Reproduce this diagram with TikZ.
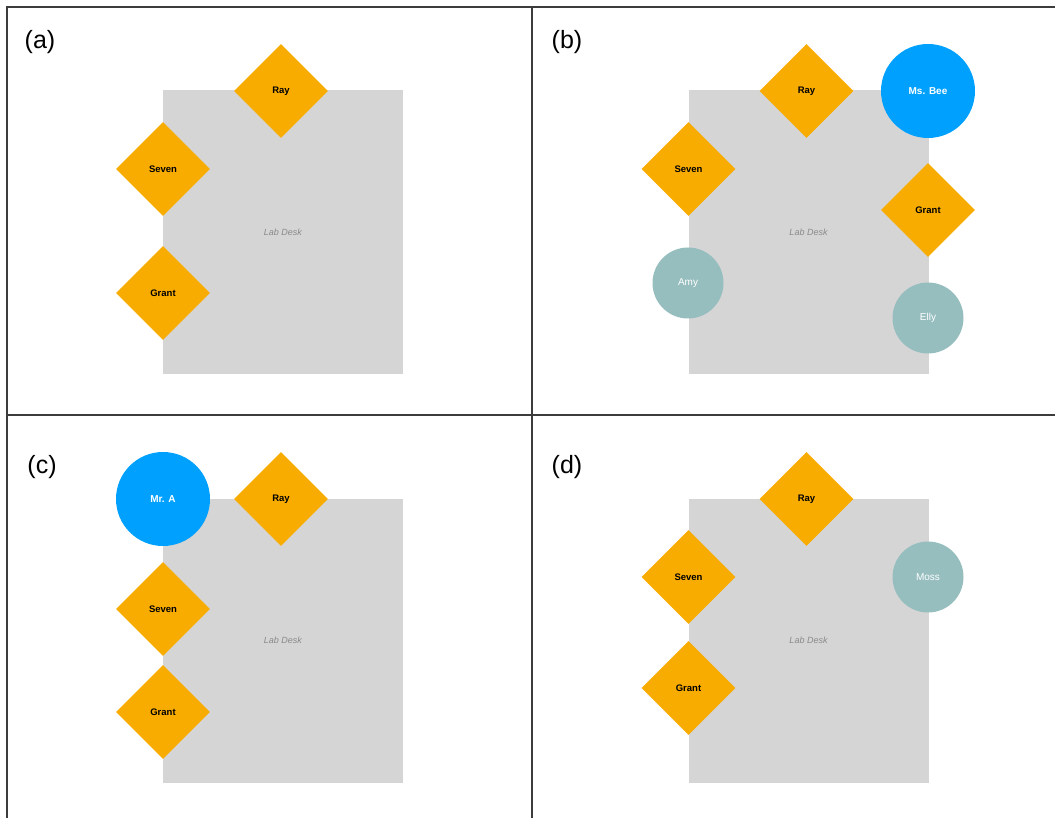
\documentclass[tikz,border=0pt]{standalone}
\usepackage{fontspec}
\setmainfont{Liberation Sans}
\usepackage{tikz}
\usetikzlibrary{shapes.geometric}

\definecolor{deskgray}{HTML}{D5D5D5}
\definecolor{desktext}{HTML}{8A8A8A}
\definecolor{seatorange}{HTML}{F9AC00}
\definecolor{headblue}{HTML}{00A1FE}
\definecolor{guestteal}{HTML}{97BEBF}
\definecolor{framegray}{HTML}{3C3C3C}

\begin{document}
\begin{tikzpicture}[x=1pt, y=-1pt,
        desk/.style={fill=deskgray, minimum width=240pt, minimum height=284pt, inner sep=0pt,
            text=desktext, font=\fontsize{9}{10}\selectfont\itshape},
        student/.style={diamond, fill=seatorange, minimum size=94pt, inner sep=0pt,
            font=\fontsize{9.5}{11}\selectfont\bfseries},
        teacher/.style={circle, fill=headblue, minimum size=94pt, inner sep=0pt, text=white,
            font=\fontsize{10}{12}\selectfont\bfseries},
        guest/.style={circle, fill=guestteal, minimum size=71pt, inner sep=0pt, text=white,
            font=\fontsize{10}{12}\selectfont},
        tag/.style={font=\fontsize{25}{28}\selectfont}]
        \useasboundingbox (0,0) rectangle (1055,818);

        % table lines
        \draw[framegray, line width=1.2pt] (7,818) -- (7,7) -- (1055,7);
        \draw[framegray, line width=1.2pt] (532,7) -- (532,818);
        \draw[framegray, line width=1.2pt] (7,415) -- (1055,415);

        % (a)
        \node[tag] (tag-a) at (40,42) {(a)};
        \node[desk] (desk-a) at (283,232) {Lab Desk};
        \node[student] (ray-a) at (281,91) {Ray};
        \node[student] (seven-a) at (163,169) {Seven};
        \node[student] (grant-a) at (163,293) {Grant};

        % (b)
        \node[tag] (tag-b) at (567,42) {(b)};
        \node[desk] (desk-b) at (808.5,232) {Lab Desk};
        \node[student] (ray-b) at (806.5,91) {Ray};
        \node[teacher] (bee-b) at (928,91) {Ms. Bee};
        \node[student] (seven-b) at (688.5,169) {Seven};
        \node[student] (grant-b) at (928,210) {Grant};
        \node[guest] (amy-b) at (688,283) {Amy};
        \node[guest] (elly-b) at (928,318) {Elly};

        % (c)
        \node[tag] (tag-c) at (42,467) {(c)};
        \node[desk] (desk-c) at (283,640.5) {Lab Desk};
        \node[teacher] (mra-c) at (163,499) {Mr. A};
        \node[student] (ray-c) at (281,499) {Ray};
        \node[student] (seven-c) at (163,609) {Seven};
        \node[student] (grant-c) at (163,712) {Grant};

        % (d)
        \node[tag] (tag-d) at (567,467) {(d)};
        \node[desk] (desk-d) at (808.5,640.5) {Lab Desk};
        \node[student] (ray-d) at (806.5,499) {Ray};
        \node[student] (seven-d) at (688.5,577) {Seven};
        \node[student] (grant-d) at (688.5,688) {Grant};
        \node[guest] (moss-d) at (928,577) {Moss};
    \end{tikzpicture}
\end{document}
